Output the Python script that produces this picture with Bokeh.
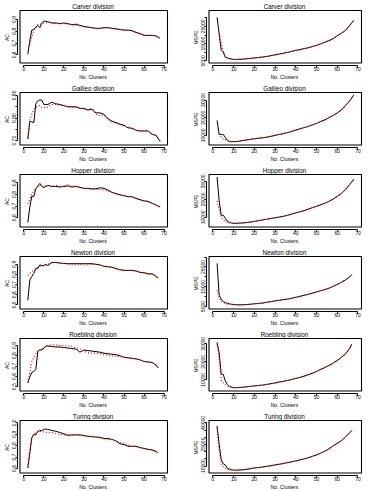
from bokeh.plotting import figure
from bokeh.layouts import gridplot
from bokeh.models import FixedTicker, Range1d
from bokeh.embed import file_html
from bokeh.resources import INLINE

NAN = float("nan")

# ---------------- data ----------------
X68 = [2, 3, 4, 5, 6, 7, 8, 9, 10, 11, 12, 14, 16, 18, 20, 22, 24, 26, 28, 30, 32, 34, 36, 38,
       40, 42, 44, 46, 48, 50, 52, 54, 56, 58, 60, 62, 64, 66, 68]
X67 = [2, 3, 4, 5, 6, 7, 8, 9, 10, 11, 12, 14, 16, 18, 20, 22, 24, 26, 28, 30, 32, 34, 36, 38,
       40, 42, 44, 46, 48, 50, 52, 54, 56, 58, 60, 62, 64, 66, 67]
x_ticks = [0, 10, 20, 30, 40, 50, 60, 70]

carver_ac_black = [0.605, 0.72, 0.81, 0.815, 0.835, 0.85, 0.83, 0.87, 0.885, 0.885, 0.88,
                   0.87, 0.87, 0.865, 0.87, 0.865, 0.855, 0.86, 0.85, 0.84, 0.835, 0.83, 0.825, 0.825,
                   0.83, 0.83, 0.825, 0.82, 0.815, 0.81, 0.81, 0.805, 0.79, 0.78, 0.765, 0.765, 0.765, 0.76, 0.74]
carver_ac_red = [NAN, 0.69, 0.75, 0.81, 0.83, 0.855, 0.86, 0.86, 0.87, 0.872, 0.875,
                 0.875, 0.865, 0.865, 0.865, 0.86, 0.855, 0.85, 0.845, 0.84, 0.835, 0.83, 0.82, 0.825,
                 0.83, 0.83, 0.825, 0.82, 0.815, 0.81, 0.81, 0.805, 0.79, 0.78, 0.765, 0.765, 0.765, 0.76, 0.74]
carver_mspe_black = [30200, 20650, 11100, 10200, 7100, 6700, 6400, 6100, 5870, 5870, 5870,
                     6000, 6200, 6450, 6700, 6950, 7250, 7600, 8000, 8500, 8950, 9450, 9950, 10500,
                     11100, 11550, 12100, 12600, 13300, 14000, 14800, 15800, 16700, 17900, 19600, 21000, 22700, 25500, 28500]
carver_mspe_red = [NAN, 21000, 15400, 10200, 7100, 6700, 6300, 6000, 5700, 5800, 5850,
                   6000, 6200, 6450, 6700, 6950, 7250, 7600, 8000, 8500, 8950, 9450, 9950, 10500,
                   11100, 11550, 12100, 12600, 13300, 14000, 14800, 15800, 16700, 17900, 19600, 21000, 22700, 25500, 28500]

galileo_ac_black = [0.707, 0.786, 0.783, 0.78, 0.863, 0.876, 0.88, 0.879, 0.86, 0.86, 0.86,
                    0.87, 0.863, 0.86, 0.855, 0.85, 0.85, 0.85, 0.843, 0.843, 0.836, 0.839, 0.823, 0.823,
                    0.817, 0.797, 0.786, 0.78, 0.773, 0.768, 0.757, 0.755, 0.746, 0.743, 0.743, 0.743, 0.728, 0.724, 0.697]
galileo_ac_red = [0.711, 0.79, 0.817, 0.836, 0.849, 0.852, 0.856, 0.847, 0.847, 0.845, 0.85,
                  0.86, 0.86, 0.856, 0.856, 0.85, 0.847, 0.847, 0.843, 0.839, 0.836, 0.843, 0.817, 0.81,
                  0.813, 0.794, 0.783, 0.777, 0.77, 0.764, 0.76, 0.755, 0.746, 0.743, 0.743, 0.743, 0.73, 0.724, 0.697]
galileo_mspe_black = [18500, 10500, 10500, 10500, 8800, 7100, 6600, 6550, 6500, 6500, 6600,
                      7000, 7400, 7750, 8100, 8400, 8650, 9000, 9500, 10000, 10550, 11000, 11600, 12300,
                      13000, 13700, 14400, 15100, 15900, 16800, 17800, 18800, 20000, 21300, 22700, 24400, 26900, 29500, 32900]
galileo_mspe_red = [NAN, 11000, 8800, 8000, 7600, 7100, 6600, 6500, 6400, 6450, 6550,
                    7000, 7400, 7750, 8100, 8400, 8650, 9000, 9500, 10000, 10550, 11000, 11600, 12300,
                    13000, 13700, 14400, 15100, 15900, 16800, 17800, 18800, 20000, 21300, 22700, 24400, 26900, 29500, 32900]

hopper_ac_black = [0.559, 0.693, 0.784, 0.784, 0.848, 0.874, 0.895, 0.869, 0.859, 0.87, 0.879,
                   0.869, 0.869, 0.864, 0.869, 0.874, 0.864, 0.869, 0.861, 0.853, 0.853, 0.848, 0.848, 0.858,
                   0.853, 0.838, 0.817, 0.807, 0.797, 0.79, 0.781, 0.781, 0.766, 0.755, 0.745, 0.74, 0.724, 0.709, 0.693]
hopper_ac_red = [0.72, 0.76, 0.80, 0.833, 0.858, 0.866, 0.877, 0.874, 0.874, 0.874, 0.874,
                 0.869, 0.879, 0.869, 0.869, 0.884, 0.869, 0.874, 0.861, 0.853, 0.848, 0.843, 0.843, 0.843,
                 0.838, 0.828, 0.817, 0.807, 0.797, 0.79, 0.781, 0.781, 0.766, 0.755, 0.745, 0.74, 0.724, 0.709, 0.693]
hopper_mspe_black = [32500, 19200, 11200, 11200, 9500, 7800, 7200, 6900, 6700, 6700, 6800,
                     6900, 7100, 7400, 7800, 8200, 8600, 9000, 9400, 9800, 10200, 10600, 11200, 11800,
                     12500, 13100, 13800, 14600, 15400, 16200, 17000, 17900, 18900, 20200, 21700, 23300, 25500, 28300, 31200]
hopper_mspe_red = [19200, 14200, 10000, 8800, 7800, 7300, 7000, 6800, 6600, 6650, 6750,
                   6900, 7100, 7400, 7800, 8200, 8600, 9000, 9400, 9800, 10200, 10600, 11200, 11800,
                   12500, 13100, 13800, 14600, 15400, 16200, 17000, 17900, 18900, 20200, 21700, 23300, 25500, 28300, 31200]

newton_ac_black = [0.545, 0.746, 0.78, 0.81, 0.858, 0.858, 0.894, 0.888, 0.888, 0.9, 0.888,
                   0.918, 0.918, 0.912, 0.909, 0.906, 0.906, 0.906, 0.906, 0.906, 0.906, 0.906, 0.9, 0.894,
                   0.88, 0.876, 0.871, 0.858, 0.846, 0.84, 0.84, 0.84, 0.834, 0.82, 0.817, 0.805, 0.805, 0.781, 0.767]
newton_ac_red = [0.79, 0.81, 0.83, 0.84, 0.858, 0.87, 0.879, 0.879, 0.888, 0.891, 0.9,
                 0.918, 0.918, 0.912, 0.906, 0.903, 0.894, 0.894, 0.9, 0.894, 0.894, 0.9, 0.9, 0.894,
                 0.88, 0.876, 0.871, 0.858, 0.846, 0.84, 0.84, 0.84, 0.834, 0.82, 0.817, 0.805, 0.805, 0.781, 0.767]
newton_mspe_black = [26800, 10900, 8600, 7600, 7000, 6700, 6400, 6200, 6100, 6000, 5900,
                     5900, 6000, 6200, 6400, 6600, 6800, 7200, 7500, 7900, 8200, 8500, 8800, 9200,
                     9700, 10200, 10700, 11200, 11800, 12400, 13000, 13600, 14300, 15200, 16200, 17300, 18500, 20000, 21200]
newton_mspe_red = [13200, 9400, 7600, 7000, 6400, 6200, 6100, 5900, 5800, 5800, 5800,
                   5900, 6000, 6200, 6400, 6600, 6800, 7200, 7500, 7900, 8200, 8500, 8800, 9200,
                   9700, 10200, 10700, 11200, 11800, 12400, 13000, 13600, 14300, 15200, 16200, 17300, 18500, 20000, 21200]

roebling_ac_black = [0.538, 0.596, 0.639, 0.648, 0.668, 0.842, 0.857, 0.857, 0.871, 0.894, 0.894,
                     0.89, 0.885, 0.885, 0.88, 0.875, 0.87, 0.865, 0.835, 0.855, 0.85, 0.845, 0.84, 0.835,
                     0.825, 0.82, 0.815, 0.81, 0.8, 0.785, 0.78, 0.775, 0.77, 0.76, 0.745, 0.74, 0.735, 0.71, 0.685]
roebling_ac_red = [0.538, 0.64, 0.74, 0.784, 0.82, 0.85, 0.857, 0.865, 0.88, 0.89, 0.9,
                   0.905, 0.905, 0.9, 0.9, 0.895, 0.89, 0.88, 0.865, 0.845, 0.83, 0.825, 0.825, 0.82,
                   0.81, 0.805, 0.8, 0.795, 0.79, 0.785, 0.78, 0.775, 0.77, 0.76, 0.745, 0.74, 0.735, 0.71, 0.685]
roebling_mspe_black = [30800, 25000, 13300, 13000, 9200, 7500, 6300, 6000, 5700, 5700, 5700,
                       5900, 6100, 6400, 6700, 6900, 7100, 7500, 7900, 8300, 8800, 9200, 9700, 10200,
                       10800, 11400, 12100, 12900, 13700, 14700, 15800, 16900, 18000, 19300, 20800, 22500, 24500, 27500, 29800]
roebling_mspe_red = [29800, 21700, 10000, 8300, 7300, 6700, 6000, 5800, 5700, 5700, 5700,
                     5900, 6100, 6400, 6700, 6900, 7100, 7500, 7900, 8300, 8800, 9200, 9700, 10200,
                     10800, 11400, 12100, 12900, 13700, 14700, 15800, 16900, 18000, 19300, 20800, 22500, 24500, 27500, 29800]

turing_ac_black = [0.605, 0.737, 0.868, 0.9, 0.895, 0.926, 0.932, 0.934, 0.942, 0.947, 0.942,
                   0.934, 0.926, 0.916, 0.905, 0.89, 0.895, 0.895, 0.895, 0.89, 0.882, 0.879, 0.876, 0.874,
                   0.863, 0.863, 0.855, 0.842, 0.816, 0.811, 0.795, 0.795, 0.795, 0.784, 0.776, 0.768, 0.763, 0.75, 0.737]
turing_ac_red = [0.605, 0.763, 0.882, 0.9, 0.916, 0.926, 0.926, 0.924, 0.921, 0.918, 0.916,
                 0.916, 0.905, 0.9, 0.895, 0.895, 0.89, 0.895, 0.89, 0.884, 0.884, 0.882, 0.874, 0.868,
                 0.863, 0.855, 0.853, 0.842, 0.829, 0.821, 0.803, 0.795, 0.795, 0.784, 0.776, 0.768, 0.763, 0.75, 0.737]
turing_mspe_black = [37900, 25200, 14600, 11500, 10800, 8300, 7900, 7500, 7200, 7200, 7200,
                     7400, 7700, 8200, 8700, 9000, 9400, 9800, 10300, 10800, 11300, 11800, 12400, 13000,
                     13600, 14300, 15000, 15800, 16800, 17800, 19000, 20300, 22000, 24100, 25800, 27700, 30300, 33200, 34700]
turing_mspe_red = [36500, 21000, 11500, 9400, 8300, 7800, 7500, 7200, 6900, 7000, 7100,
                   7400, 7700, 8200, 8700, 9000, 9400, 9800, 10300, 10800, 11300, 11800, 12400, 13000,
                   13600, 14300, 15000, 15800, 16800, 17800, 19000, 20300, 22000, 24100, 25800, 27700, 30300, 33200, 34700]

# y ticks, tick labels and axis limits per panel
ac_ticks_6_9 = [0.6, 0.7, 0.8, 0.9]
ac_labels_6_9 = ["0.6", "0.7", "0.8", "0.9"]
ac_ticks_5_9 = [0.5, 0.6, 0.7, 0.8, 0.9]
ac_labels_5_9 = ["0.5", "0.6", "0.7", "0.8", "0.9"]
galileo_ac_ticks = [0.70, 0.75, 0.80, 0.85, 0.90]
galileo_ac_labels = ["0.70", "", "0.80", "", "0.90"]
turing_ac_ticks = [0.6, 0.7, 0.8, 0.9, 1.0]
turing_ac_labels = ["0.6", "0.7", "0.8", "0.9", "1.0"]
mspe_ticks_5k = [5000, 10000, 15000, 20000, 25000, 30000]
mspe_labels_5k = ["5000", "", "15000", "", "25000", ""]
mspe_ticks_10k = [10000, 20000, 30000]
mspe_labels_10k = ["10000", "20000", "30000"]
turing_mspe_ticks = [10000, 15000, 20000, 25000, 30000, 35000, 40000]
turing_mspe_labels = ["10000", "", "", "25000", "", "", "40000"]

# ---------------- layout / style ----------------
FONT = "Liberation Sans"
BT, FH, BB = 0, 56, 14
BL = 14
FW = [151, 156]
BR = [21, 16]
GAP = 2.5
LW = 1.1
X_LIM = (-1.9, 71.7)


def panel(col, title, ylabel, xs, yb, yr, ylim, yticks, ylabels):
    fw = FW[col]
    xlo, xhi = X_LIM
    ylo, yhi = ylim
    dx = (xhi - xlo) / (fw - GAP - 1)
    dy = (yhi - ylo) / (FH - GAP - 1)
    p = figure(frame_width=fw, frame_height=FH,
               x_range=Range1d(xlo - GAP * dx, xhi + dx),
               y_range=Range1d(ylo - GAP * dy, yhi + dy),
               output_backend="svg", toolbar_location=None,
               min_border_left=BL, min_border_right=BR[col],
               min_border_top=BT, min_border_bottom=BB)
    p.outline_line_color = None
    p.xgrid.visible = False
    p.ygrid.visible = False
    p.background_fill_color = "white"
    p.border_fill_color = "white"
    # plot box at the axis limits
    p.quad(left=[xlo], right=[xhi], bottom=[ylo], top=[yhi],
           fill_alpha=0, line_color="black", line_width=LW)
    p.line(xs, yb, line_color="black", line_width=1)
    p.line(xs, yr, line_color="red", line_width=1.2, line_dash="1 2")

    p.title.text = title
    p.title.align = "center"
    p.title.text_font = FONT
    p.title.text_font_size = "6.3px"
    p.title.text_font_style = "normal"
    p.title.text_color = "black"
    p.title.standoff = 0
    p.title.offset = 0

    xa = p.xaxis[0]
    xa.ticker = FixedTicker(ticks=x_ticks)
    xa.bounds = (x_ticks[0], x_ticks[-1])
    xa.axis_label = "No. Clusters"
    ya = p.yaxis[0]
    ya.ticker = FixedTicker(ticks=yticks)
    ya.bounds = (yticks[0], yticks[-1])
    ya.major_label_overrides = dict(zip(yticks, ylabels))
    ya.major_label_orientation = "vertical"
    ya.axis_label = ylabel
    for ax in (xa, ya):
        ax.axis_line_color = "black"
        ax.axis_line_width = LW
        ax.major_tick_line_color = "black"
        ax.major_tick_line_width = LW
        ax.major_tick_out = 2
        ax.major_tick_in = 0
        ax.minor_tick_out = 0
        ax.minor_tick_in = 0
        ax.major_label_standoff = -1
        ax.axis_label_standoff = 0
        ax.major_label_text_font = FONT
        ax.major_label_text_font_size = "5px"
        ax.major_label_text_color = "black"
        ax.axis_label_text_font = FONT
        ax.axis_label_text_font_size = "5px"
        ax.axis_label_text_font_style = "normal"
        ax.axis_label_text_color = "black"
    return p


rows = [
    [panel(0, "Carver division", "AC", X68, carver_ac_black, carver_ac_red, (0.531, 0.976), ac_ticks_6_9, ac_labels_6_9),
     panel(1, "Carver division", "MSPE", X68, carver_mspe_black, carver_mspe_red, (3780, 34200), mspe_ticks_5k, mspe_labels_5k)],
    [panel(0, "Galileo division", "AC", X68, galileo_ac_black, galileo_ac_red, (0.681, 0.913), galileo_ac_ticks, galileo_ac_labels),
     panel(1, "Galileo division", "MSPE", X68, galileo_mspe_black, galileo_mspe_red, (4580, 34240), mspe_ticks_10k, mspe_labels_10k)],
    [panel(0, "Hopper division", "AC", X68, hopper_ac_black, hopper_ac_red, (0.52, 0.972), ac_ticks_6_9, ac_labels_6_9),
     panel(1, "Hopper division", "MSPE", X68, hopper_mspe_black, hopper_mspe_red, (4670, 33830), mspe_ticks_10k, mspe_labels_10k)],
    [panel(0, "Newton division", "AC", X67, newton_ac_black, newton_ac_red, (0.459, 0.977), ac_ticks_5_9, ac_labels_5_9),
     panel(1, "Newton division", "MSPE", X67, newton_mspe_black, newton_mspe_red, (3790, 30300), mspe_ticks_5k, mspe_labels_5k)],
    [panel(0, "Roebling division", "AC", X67, roebling_ac_black, roebling_ac_red, (0.459, 0.967), ac_ticks_5_9, ac_labels_5_9),
     panel(1, "Roebling division", "MSPE", X67, roebling_mspe_black, roebling_mspe_red, (3830, 33000), mspe_ticks_10k, mspe_labels_10k)],
    [panel(0, "Turing division", "AC", X67, turing_ac_black, turing_ac_red, (0.561, 1.021), turing_ac_ticks, turing_ac_labels),
     panel(1, "Turing division", "MSPE", X67, turing_mspe_black, turing_mspe_red, (5200, 41700), turing_mspe_ticks, turing_mspe_labels)],
]

grid = gridplot(rows, toolbar_location=None)

with open("out.html", "w") as f:
    f.write(file_html(grid, INLINE))
